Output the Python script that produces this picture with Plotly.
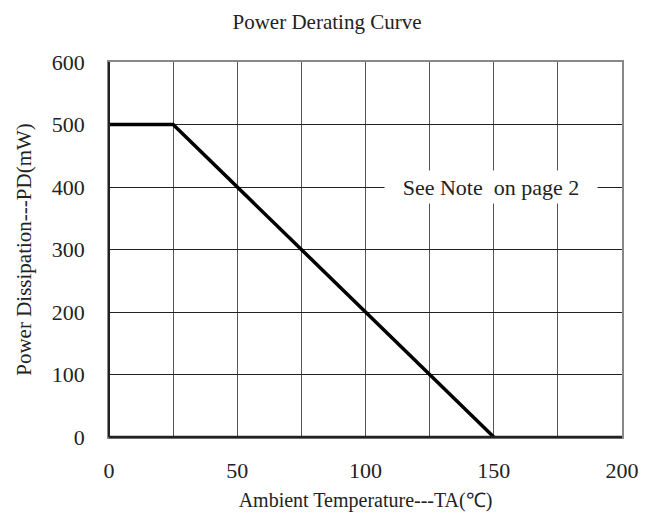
import plotly.graph_objects as go

temps = [0, 25, 150]
power = [500, 500, 0]
x_ticks = [0, 50, 100, 150, 200]
y_ticks = [0, 100, 200, 300, 400, 500, 600]

FONT = "Liberation Serif"

fig = go.Figure()
fig.add_trace(go.Scatter(x=temps, y=power, mode="lines",
                         line=dict(color="black", width=3.5), showlegend=False,
                         hoverinfo="skip"))

fig.update_layout(
    width=654, height=522,
    margin=dict(l=109, r=32, t=62, b=85),
    paper_bgcolor="white", plot_bgcolor="white",
    font=dict(family=FONT, size=21, color="#222"),
    title=dict(text="Power Derating Curve", x=0.5, xanchor="center",
               y=1 - 22 / 522, yanchor="middle", font=dict(size=21, family=FONT)),
    showlegend=False,
)
fig.update_xaxes(
    range=[0, 200], tickvals=x_ticks, ticks="", ticklabelstandoff=13,
    showgrid=True, gridcolor="#555", gridwidth=1,
    minor=dict(dtick=25, showgrid=True, gridcolor="#555", gridwidth=1),
    showline=True, linecolor="#888", linewidth=1.5, mirror=True,
    zeroline=False,
    title=dict(text="Ambient Temperature---TA(℃)", standoff=11, font=dict(size=20, family=FONT)),
    tickfont=dict(size=22, family=FONT),
)
fig.update_yaxes(
    range=[0, 600], tickvals=y_ticks, ticks="", ticklabelstandoff=18,
    showgrid=True, gridcolor="#222", gridwidth=1,
    showline=True, linecolor="#888", linewidth=1.5, mirror=True,
    zeroline=False,
    title=dict(text="Power Dissipation---PD(mW)", standoff=14, font=dict(size=21, family=FONT)),
    tickfont=dict(size=22, family=FONT),
)
# darker left and bottom axis lines
fig.add_shape(type="line", xref="paper", yref="paper", x0=0, x1=1, y0=0, y1=0,
              line=dict(color="#222", width=2.5))
fig.add_shape(type="line", xref="paper", yref="paper", x0=0, x1=0, y0=0, y1=1,
              line=dict(color="#222", width=2))

fig.add_annotation(x=149, y=400, xref="x", yref="y",
                   text="See Note  on page 2", showarrow=False,
                   bgcolor="white", width=210, height=30,
                   font=dict(size=22, family=FONT, color="#222"))

fig.write_html("out.html")
